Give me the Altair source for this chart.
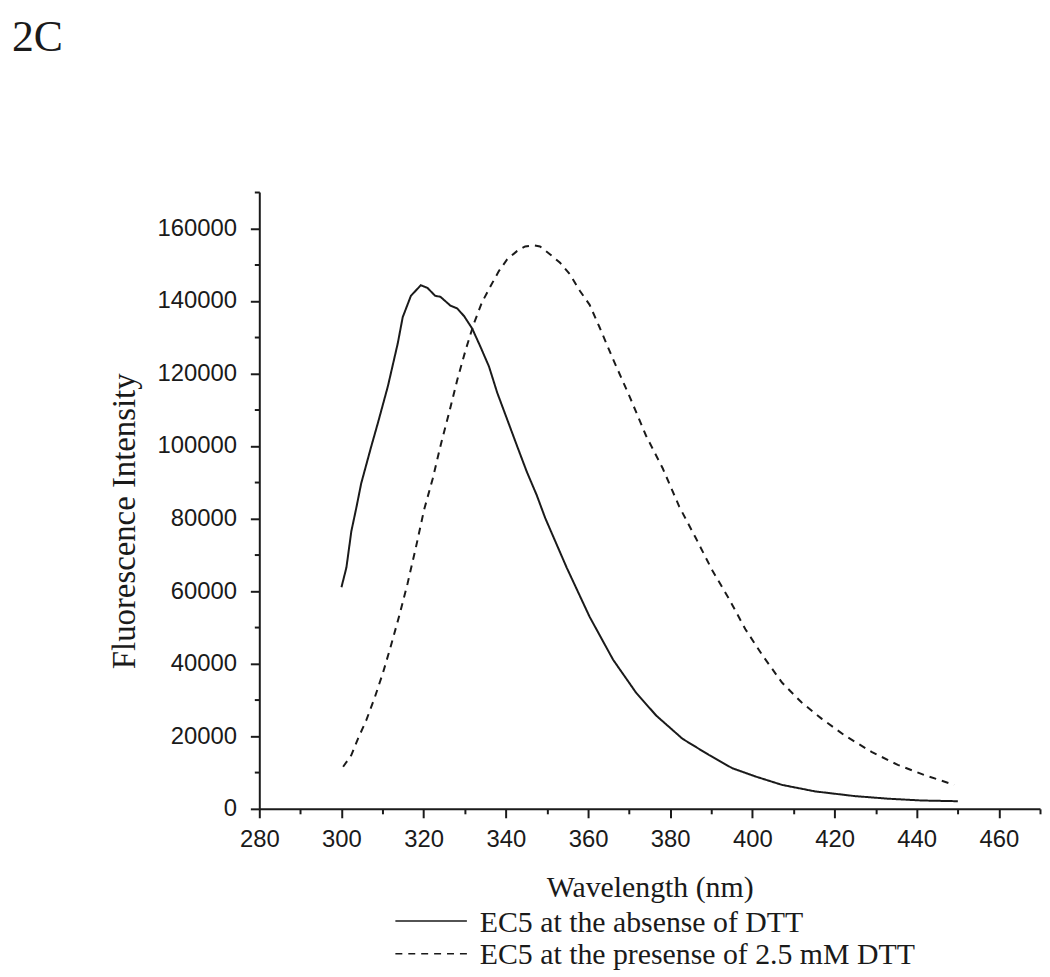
import altair as alt
import pandas as pd

# ---- data ----
wl_absent = [300.0, 301.2, 302.4, 303.6, 304.8, 306.0, 307.2, 308.9, 311.3, 313.7,
             314.9, 316.9, 319.3, 320.9, 322.8, 324.1, 326.5, 328.2, 329.9, 331.8,
             333.8, 335.9, 337.9, 340.3, 342.7, 345.1, 347.5, 349.6, 354.8, 360.4,
             366.1, 371.7, 376.6, 383.0, 389.5, 395.1, 400.8, 407.2, 415.3, 425.0,
             433.0, 441.1, 450.0]
fi_absent = [61100, 66500, 76500, 82900, 89700, 94700, 99700, 106500, 116500, 128300,
             135500, 141400, 144300, 143600, 141400, 141100, 138700, 137900, 135700, 132400,
             127400, 121900, 114700, 107400, 100100, 92900, 86500, 80100, 66500, 52900,
             41100, 32000, 25700, 19300, 14800, 11200, 8900, 6600, 4800, 3500,
             2800, 2300, 2100]

wl_dtt = [300.4, 302.4, 304.0, 306.0, 308.1, 310.1, 312.1, 314.1, 316.1, 318.1,
          320.1, 322.2, 324.2, 326.2, 328.2, 330.2, 332.2, 334.2, 336.3, 338.3,
          340.3, 342.7, 344.7, 346.7, 348.3, 350.8, 353.2, 355.6, 358.0, 360.4,
          362.7, 366.1, 370.1, 374.1, 378.2, 382.2, 386.2, 390.3, 394.3, 398.3,
          402.4, 407.2, 412.0, 416.9, 422.5, 429.0, 435.4, 441.9, 449.1]
fi_dtt = [11600, 14800, 19300, 24300, 30700, 37500, 45200, 53400, 62200, 72000,
          82400, 91000, 100500, 109200, 118300, 126400, 133700, 139600, 144100, 148200,
          151400, 153700, 155000, 155300, 155000, 152800, 150500, 147300, 142800, 138900,
          133000, 123900, 113700, 102900, 93800, 83300, 74700, 65600, 57900, 49500,
          42400, 34800, 29300, 24800, 20200, 15700, 12100, 9300, 6600]

series_names = ["EC5 at the absense of DTT", "EC5 at the presense of 2.5 mM DTT"]
x_tick_values = list(range(280, 471, 10))
y_tick_values = list(range(0, 170001, 10000))
panel_label = "2C"
x_title = "Wavelength (nm)"
y_title = "Fluorescence Intensity"

df = pd.concat([
    pd.DataFrame({"wl": wl_absent, "fi": fi_absent, "series": series_names[0]}),
    pd.DataFrame({"wl": wl_dtt, "fi": fi_dtt, "series": series_names[1]}),
], ignore_index=True)

INK = "#1a1a1a"
SERIF = "Liberation Serif"
SANS = "Liberation Sans"

x_axis = alt.Axis(
    values=x_tick_values,
    labelExpr="datum.value % 20 === 0 ? datum.label : ''",
    tickSize={"condition": {"test": "datum.value % 20 === 0", "value": 9}, "value": 5},
    title=x_title, titleFont=SERIF, titleFontSize=30, titleFontWeight="normal",
    titleColor=INK, titleX=393, titleY=88, titleAlign="center", titleBaseline="alphabetic",
    labelFont=SANS, labelFontSize=24, labelColor=INK, labelPadding=10,
    labelOverlap=False, labelFlush=False, grid=False,
    domainColor=INK, domainWidth=2, tickColor=INK, tickWidth=2,
)
y_axis = alt.Axis(
    values=y_tick_values, format="d",
    labelExpr="datum.value % 20000 === 0 ? datum.label : ''",
    tickSize={"condition": {"test": "datum.value % 20000 === 0", "value": 9}, "value": 5},
    title=y_title, titleFont=SERIF, titleFontSize=33, titleFontWeight="normal",
    titleColor=INK, titleX=-136, titleY=331, titleAngle=-90, titleAlign="center",
    titleBaseline="middle",
    labelFont=SANS, labelFontSize=24, labelColor=INK, labelPadding=14,
    labelOverlap=False, labelFlush=False, grid=False,
    domainColor=INK, domainWidth=2, tickColor=INK, tickWidth=2,
)

lines = alt.Chart(df).mark_line(strokeWidth=2, color=INK).encode(
    x=alt.X("wl:Q", scale=alt.Scale(domain=[280, 470], nice=False, zero=False), axis=x_axis),
    y=alt.Y("fi:Q", scale=alt.Scale(domain=[0, 170000], nice=False), axis=y_axis),
    strokeDash=alt.StrokeDash("series:N",
                              scale=alt.Scale(domain=series_names, range=[[1, 0], [7, 6]]),
                              legend=None),
    order="wl:Q",
)

leg_df1 = pd.DataFrame({"label": [series_names[0]]})
leg_df2 = pd.DataFrame({"label": [series_names[1]]})

leg_line1 = alt.Chart(leg_df1).mark_rule(strokeWidth=1.5, color=INK).encode(
    x=alt.value(137), x2=alt.value(209), y=alt.value(734))
leg_line2 = alt.Chart(leg_df2).mark_rule(strokeWidth=1.5, color=INK, strokeDash=[7, 6]).encode(
    x=alt.value(137), x2=alt.value(209), y=alt.value(767))
leg_text1 = alt.Chart(leg_df1).mark_text(align="left", baseline="alphabetic", font=SERIF,
                                         fontSize=30, color=INK).encode(
    x=alt.value(222), y=alt.value(745), text="label:N")
leg_text2 = alt.Chart(leg_df2).mark_text(align="left", baseline="alphabetic", font=SERIF,
                                         fontSize=30, color=INK).encode(
    x=alt.value(222), y=alt.value(777), text="label:N")

tag = alt.Chart(pd.DataFrame({"t": [panel_label]})).mark_text(
    align="left", baseline="alphabetic", font=SERIF, fontSize=44, color=INK).encode(
    x=alt.value(-249), y=alt.value(-142), text="t:N")

chart = alt.layer(lines, leg_line1, leg_line2, leg_text1, leg_text2, tag).properties(
    width=786, height=621,
    padding={"left": 253, "top": 182, "right": 2, "bottom": 160},
    autosize=alt.AutoSizeParams(type="none"),
    background="white",
).configure_view(strokeWidth=0)

chart.save("out.html", embed_options={"renderer": "svg", "actions": False})
